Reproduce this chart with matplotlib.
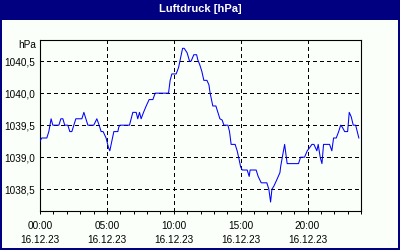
import matplotlib.pyplot as plt
from matplotlib.patches import Rectangle
from matplotlib.ticker import MultipleLocator

# hours since midnight on 16.12.23 and air pressure in hPa
hours = [0.0, 0.13, 0.51, 0.66, 0.83, 0.96, 1.41, 1.56, 1.71, 1.85, 2.08, 2.23, 2.38, 2.53, 2.68,
         3.13, 3.28, 3.58, 4.02, 4.25, 4.42, 4.57, 4.72, 4.94, 5.12, 5.22, 5.32, 5.52, 5.82, 5.89,
         5.97, 6.69, 6.94, 7.19, 7.31, 7.44, 7.56, 7.74, 7.94, 8.16, 8.44, 8.61, 9.61, 9.73, 9.86,
         10.18, 10.36, 10.51, 10.66, 10.78, 11.00, 11.18, 11.30, 11.50, 11.71, 11.80, 11.95, 12.10,
         12.25, 12.48, 12.63, 12.72, 12.85, 12.92, 13.15, 13.30, 13.45, 13.62, 13.75, 14.05, 14.17,
         14.29, 14.59, 14.74, 14.85, 15.00, 15.12, 15.49, 15.64, 15.71, 16.16, 16.31, 16.54, 16.96,
         17.11, 17.24, 17.34, 17.49, 17.71, 17.94, 17.99, 18.16, 18.29, 18.48, 19.33, 19.48, 19.78,
         19.98, 20.16, 20.33, 20.48, 20.70, 20.80, 20.95, 21.08, 21.20, 21.65, 21.82, 21.95, 22.15,
         22.33, 22.48, 22.60, 22.78, 23.00, 23.12, 23.27, 23.42, 23.60, 23.72, 23.84]
pressure = [1039.25, 1039.3, 1039.3, 1039.4, 1039.6, 1039.5, 1039.5, 1039.6, 1039.6, 1039.5,
            1039.5, 1039.4, 1039.4, 1039.5, 1039.6, 1039.6, 1039.7, 1039.5, 1039.5, 1039.6,
            1039.5, 1039.4, 1039.4, 1039.3, 1039.15, 1039.1, 1039.2, 1039.4, 1039.4, 1039.47,
            1039.5, 1039.5, 1039.7, 1039.7, 1039.6, 1039.7, 1039.6, 1039.7, 1039.8, 1039.9,
            1039.9, 1040.0, 1040.0, 1040.2, 1040.3, 1040.3, 1040.4, 1040.55, 1040.7, 1040.7,
            1040.63, 1040.5, 1040.5, 1040.6, 1040.6, 1040.52, 1040.44, 1040.34, 1040.2, 1040.2,
            1040.13, 1040.0, 1039.87, 1039.8, 1039.8, 1039.7, 1039.6, 1039.58, 1039.5, 1039.5,
            1039.4, 1039.2, 1039.2, 1039.1, 1039.0, 1038.85, 1038.8, 1038.8, 1038.7, 1038.8,
            1038.8, 1038.7, 1038.6, 1038.6, 1038.5, 1038.3, 1038.5, 1038.55, 1038.65, 1038.76,
            1038.85, 1039.05, 1039.2, 1038.9, 1038.9, 1039.0, 1039.0, 1039.1, 1039.15, 1039.2,
            1039.2, 1039.1, 1039.2, 1039.0, 1038.9, 1039.2, 1039.2, 1039.1, 1039.3, 1039.3,
            1039.4, 1039.5, 1039.47, 1039.4, 1039.4, 1039.7, 1039.63, 1039.5, 1039.5, 1039.4,
            1039.3]

x_ticks = [0, 5, 10, 15, 20]
x_labels = ["00:00\n16.12.23", "05:00\n16.12.23", "10:00\n16.12.23",
            "15:00\n16.12.23", "20:00\n16.12.23"]
y_ticks = [1038.5, 1039.0, 1039.5, 1040.0, 1040.5]
y_labels = ["1038,5", "1039,0", "1039,5", "1040,0", "1040,5"]

navy = "#000080"
W, H = 400, 250

plt.rcParams['font.family'] = ['Liberation Sans', 'DejaVu Sans']

fig = plt.figure(figsize=(4, 2.5), dpi=100, facecolor="#fafffa")

# title bar and frame
fig.patches.append(Rectangle((0, 1 - 20 / H), 1, 20 / H, transform=fig.transFigure,
                             facecolor=navy, edgecolor="none", zorder=0))
fig.patches.append(Rectangle((0, 0), 1.5 / W, 1, transform=fig.transFigure,
                             facecolor=navy, edgecolor="none"))
fig.patches.append(Rectangle((1 - 2 / W, 0), 2 / W, 1, transform=fig.transFigure,
                             facecolor=navy, edgecolor="none"))
fig.patches.append(Rectangle((0, 0), 1, 2 / H, transform=fig.transFigure,
                             facecolor=navy, edgecolor="none"))
fig.text(0.5, 1 - 9 / H, "Luftdruck [hPa]", color="white", fontsize=8,
         fontweight="bold", ha="center", va="center")

ax = fig.add_axes([40 / W, (H - 211) / H, 321 / W, 171 / H])
ax.set_facecolor("#fafffa")
ax.plot(hours, pressure, color="#0000ff", linewidth=0.75, antialiased=True, zorder=3)

ax.set_xlim(0, 24)
ax.set_ylim(1038.16, 1040.83)
ax.set_xticks(x_ticks)
ax.set_xticklabels(x_labels, fontsize=7.2, linespacing=1.5)
ax.xaxis.set_minor_locator(MultipleLocator(1))
ax.set_yticks(y_ticks)
ax.set_yticklabels(y_labels, fontsize=7.2)
ax.tick_params(axis="x", which="both", direction="out", length=2.5, width=0.72, pad=4.5)
ax.tick_params(axis="y", length=0, pad=3.5)
ax.grid(True, color="black", linestyle=(0, (3, 3)), linewidth=0.72, antialiased=False)
for s in ax.spines.values():
    s.set_linewidth(0.8)
ax.text(-0.012, 1.0, "hPa", transform=ax.transAxes, fontsize=7.2,
        ha="right", va="top")

fig.savefig("out.png", dpi=100, facecolor=fig.get_facecolor())
